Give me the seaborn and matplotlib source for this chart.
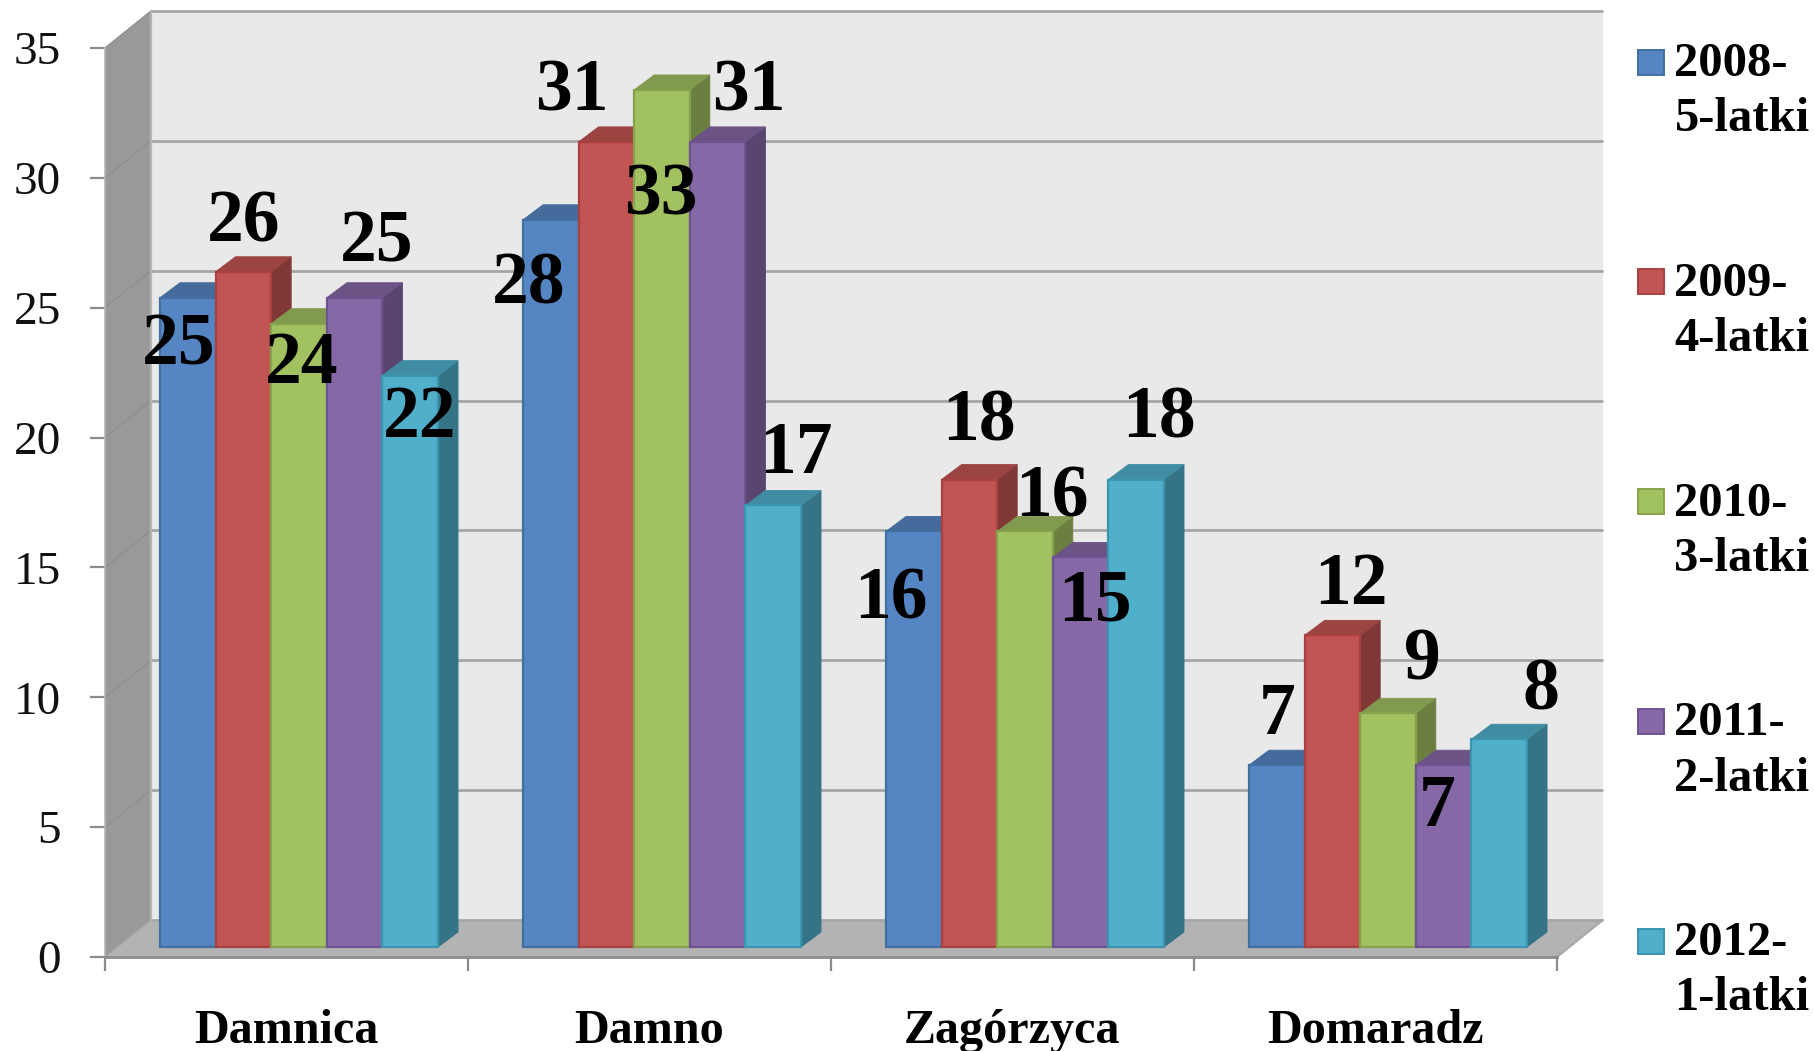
import matplotlib
matplotlib.use("Agg")
import matplotlib.pyplot as plt
import matplotlib.colors as mcolors
from matplotlib.patches import Polygon, Rectangle, Patch
from matplotlib.transforms import Affine2D
from matplotlib.legend_handler import HandlerBase
import pandas as pd
import seaborn as sns

# ---- data ----
villages = ["Damnica", "Damno", "Zagórzyca", "Domaradz"]
series_names = ["2008-\n5-latki", "2009-\n4-latki", "2010-\n3-latki", "2011-\n2-latki", "2012-\n1-latki"]
values_2008 = [25, 28, 16, 7]
values_2009 = [26, 31, 18, 12]
values_2010 = [24, 33, 16, 9]
values_2011 = [25, 31, 15, 7]
values_2012 = [22, 17, 18, 8]
all_values = [values_2008, values_2009, values_2010, values_2011, values_2012]
y_ticks = [0, 5, 10, 15, 20, 25, 30, 35]

# ---- style / layout ----
colors = ["#5586C3", "#C25553", "#A2C161", "#8768A7", "#50AFCB"]
edges = ["#41709F", "#A8413F", "#87A24C", "#6F5290", "#3B95AE"]
W, H = 1814, 1051
AX_L, AX_R, AX_T, AX_B = 105, 1557, 48, 957
BAR_SHIFT = (12.5, 10)
DEPTH = (20, 15)
WALL = (46, 37)
# label offsets from the bar top centre, per series, per village (px, up positive)
label_offsets = [
    [(-9, -49), (-22, -66), (-23, -69), (0, 49)],
    [(0, 48), (-35, 49), (10, 57), (18, 49)],
    [(3, -41), (-1, -107), (27, 33), (34, 52)],
    [(22, 54), (31, 49), (14, -45), (-6, -43)],
    [(9, -43), (23, 50), (23, 60), (42, 48)],
]

sns.set_theme(style="white")
plt.rcParams["font.family"] = ["Liberation Serif", "DejaVu Serif"]

frame = pd.DataFrame({
    "village": [v for _ in series_names for v in villages],
    "series": [s for s in series_names for _ in villages],
    "value": [x for vals in all_values for x in vals],
})

fig = plt.figure(figsize=(W / 100, H / 100), dpi=100, facecolor="white")
ax = fig.add_axes([AX_L / W, (H - AX_B) / H, (AX_R - AX_L) / W, (AX_B - AX_T) / H])
ax.set_facecolor("none")

sns.barplot(data=frame, x="village", y="value", hue="series", order=villages,
            hue_order=series_names, palette=colors, width=0.766, gap=0,
            dodge=True, legend=False, ax=ax, saturation=1, zorder=5)
ax.set_xlim(-0.5, 3.5)
ax.set_ylim(0, 35)
ax.set_xlabel("")
ax.set_ylabel("")

xu = (AX_R - AX_L) / 4
yu = (AX_B - AX_T) / 35
wx, wy = WALL[0] / xu, WALL[1] / yu
dx, dy = DEPTH[0] / xu, DEPTH[1] / yu

# ---- walls and floor ----
x0, x1 = ax.get_xlim()
ax.add_patch(Rectangle((x0 + wx, wy), x1 - x0, 35, fc="#E9E9E9", ec="none", zorder=1, clip_on=False))
ax.add_patch(Polygon([(x0, 0), (x0 + wx, wy), (x0 + wx, 35 + wy), (x0, 35)], fc="#999999", ec="none", zorder=1, clip_on=False))
ax.add_patch(Polygon([(x0, 0), (x1, 0), (x1 + wx, wy), (x0 + wx, wy)], fc="#B3B3B3", ec="none", zorder=1, clip_on=False))
for v in y_ticks:
    ax.plot([x0 + wx, x1 + wx], [v + wy, v + wy], color="#A6A6A6", lw=2.0, zorder=2, clip_on=False,
            solid_capstyle="butt")
    ax.plot([x0, x0 + wx], [v, v + wy], color="#8F8F8F" if v else "#A6A6A6", lw=1.0, zorder=2, clip_on=False)
ax.plot([x0 + wx, x0 + wx], [wy, 35 + wy], color="#B5B5B5", lw=1.6, zorder=2, clip_on=False)
ax.plot([x1, x1 + wx], [0, wy], color="#A6A6A6", lw=1.4, zorder=2, clip_on=False)

# ---- 3-D bars, built from the bars seaborn drew ----
bar_tf = ax.transData + Affine2D().translate(BAR_SHIFT[0], BAR_SHIFT[1])


def shade(c, f):
    return tuple(v * f for v in mcolors.to_rgb(c))


z = 5.0
for cat in range(len(villages)):
    for s, cont in enumerate(ax.containers):
        bar = cont.patches[cat]
        x, w, h = bar.get_x(), bar.get_width(), bar.get_height()
        bar.set_transform(bar_tf)
        bar.set_edgecolor(edges[s])
        bar.set_linewidth(1.6)
        bar.set_clip_on(False)
        bar.set_zorder(z + 0.2)
        ax.add_patch(Polygon([(x + w, 0), (x + w + dx, dy), (x + w + dx, h + dy), (x + w, h)],
                             closed=True, fc=shade(colors[s], 0.66), ec=shade(colors[s], 0.66), lw=0.6,
                             transform=bar_tf, zorder=z, clip_on=False))
        ax.add_patch(Polygon([(x, h), (x + dx, h + dy), (x + w + dx, h + dy), (x + w, h)],
                             closed=True, fc=shade(colors[s], 0.80), ec=shade(colors[s], 0.80), lw=0.6,
                             transform=bar_tf, zorder=z + 0.1, clip_on=False))
        z += 0.5

# ---- value labels ----
for s, cont in enumerate(ax.containers):
    for cat, bar in enumerate(cont.patches):
        ax.annotate(f"{int(bar.get_height())}",
                    xy=(bar.get_x() + bar.get_width() / 2, bar.get_height()), xycoords=bar_tf,
                    xytext=label_offsets[s][cat], textcoords="offset pixels",
                    ha="center", va="center", fontsize=53, fontweight="bold", color="black",
                    zorder=30, annotation_clip=False)

# ---- axes ----
sns.despine(ax=ax, top=True, right=True)
ax.spines["left"].set_color("#B5B5B5")
ax.spines["left"].set_linewidth(1.2)
ax.spines["left"].set_zorder(3)
ax.spines["bottom"].set_color("#8C8C8C")
ax.spines["bottom"].set_linewidth(2.0)
ax.spines["bottom"].set_zorder(3)
ax.set_yticks(y_ticks)
ax.set_yticklabels([str(v) for v in y_ticks])
ax.tick_params(axis="y", which="major", left=True, length=10.8, width=1.6, color="#8C8C8C",
               pad=21, labelsize=34, labelcolor="#111111")
ax.set_xticks([i - 0.5 for i in range(len(villages) + 1)])
ax.set_xticklabels([])
ax.set_xticks(range(len(villages)), minor=True)
ax.set_xticklabels(villages, minor=True, fontsize=34.7, fontweight="bold", color="black")
ax.tick_params(axis="x", which="major", bottom=True, length=10, width=1.6, color="#8C8C8C")
ax.tick_params(axis="x", which="minor", bottom=False, length=0, pad=37.5)


# ---- legend ----
class TopLineSquare(HandlerBase):
    def create_artists(self, legend, orig, xd, yd, width, height, fontsize, trans):
        r = Rectangle((-xd, -yd + 24.5), 18.7, 18.0, fc=orig.get_facecolor(), ec=orig.get_edgecolor(),
                      lw=1.4, transform=trans)
        return [r]


handles = [Patch(fc=c, ec=e, label=n) for c, e, n in zip(colors, edges, series_names)]
leg = ax.legend(handles=handles, loc="upper left", bbox_to_anchor=(1638 / W, 1 - 42 / H),
                bbox_transform=fig.transFigure, frameon=False, prop={"size": 35, "weight": "bold"},
                handlelength=0.53, handletextpad=0.22, labelspacing=2.48, borderpad=0, borderaxespad=0,
                handler_map={Patch: TopLineSquare()})
for t in leg.get_texts():
    t.set_linespacing(1.33)
    t.set_color("black")

fig.savefig("out.png", dpi=100, facecolor="white")
